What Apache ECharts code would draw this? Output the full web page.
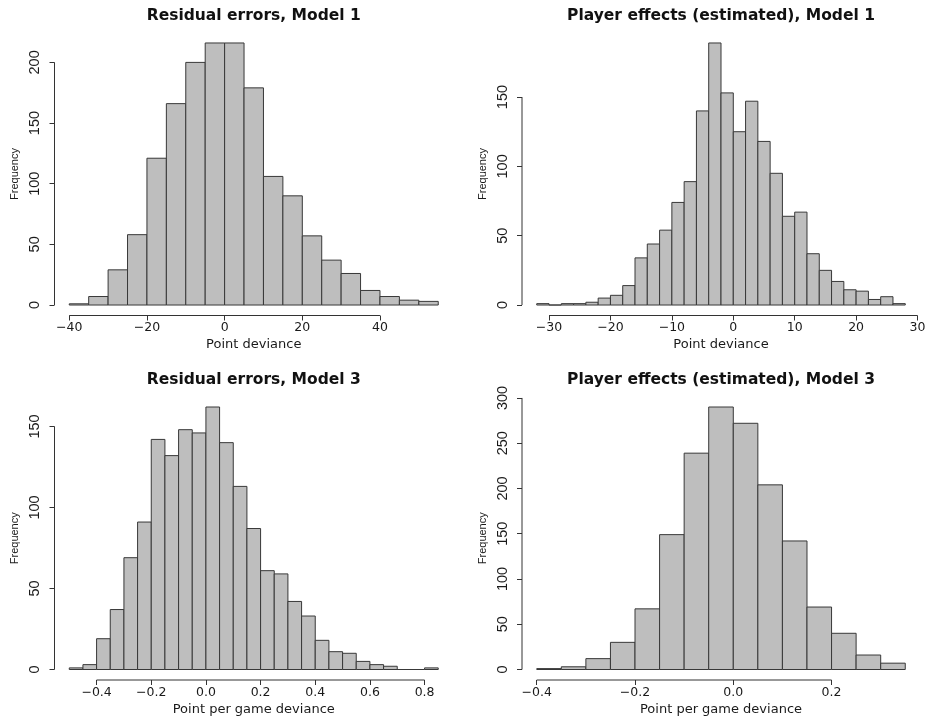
<!DOCTYPE html>
<html>
<head>
<meta charset="utf-8">
<title>Residuals and player effects</title>
<script src="https://cdn.jsdelivr.net/npm/echarts@6/dist/echarts.min.js"></script>
<style>
  html, body { margin: 0; padding: 0; background: #fff; }
  #chart { width: 932px; height: 718px; }
</style>
</head>
<body>
<div id="chart"></div>
<script>
// counts per bin
var resid1Start = -40
var resid1Width = 5
var resid1Counts = [1, 7, 29, 58, 121, 166, 200, 216, 216, 179, 106, 90, 57, 37, 26, 12, 7, 4, 3]
var resid1XTicks = [-40, -20, 0, 20, 40]
var resid1YTicks = [0, 50, 100, 150, 200]

var player1Start = -32
var player1Width = 2
var player1Counts = [1, 0, 1, 1, 2, 5, 7, 14, 34, 44, 54, 74, 89, 140, 189, 153, 125, 147, 118, 95, 64, 67, 37, 25, 17, 11, 10, 4, 6, 1]
var player1XTicks = [-30, -20, -10, 0, 10, 20, 30]
var player1YTicks = [0, 50, 100, 150]

var resid3Start = -0.5
var resid3Width = 0.05
var resid3Counts = [1, 3, 19, 37, 69, 91, 142, 132, 148, 146, 162, 140, 113, 87, 61, 59, 42, 33, 18, 11, 10, 5, 3, 2, 0, 0, 1]
var resid3XTicks = [-0.4, -0.2, 0, 0.2, 0.4, 0.6, 0.8]
var resid3YTicks = [0, 50, 100, 150]

var player3Start = -0.4
var player3Width = 0.05
var player3Counts = [1, 3, 12, 30, 67, 149, 239, 290, 272, 204, 142, 69, 40, 16, 7]
var player3XTicks = [-0.4, -0.2, 0, 0.2]
var player3YTicks = [0, 50, 100, 150, 200, 250, 300]

var panels = [
  { title: 'Residual errors, Model 1', xName: 'Point deviance', start: resid1Start, width: resid1Width, counts: resid1Counts, xTicks: resid1XTicks, yTicks: resid1YTicks, digits: 0 },
  { title: 'Player effects (estimated), Model 1', xName: 'Point deviance', start: player1Start, width: player1Width, counts: player1Counts, xTicks: player1XTicks, yTicks: player1YTicks, digits: 0 },
  { title: 'Residual errors, Model 3', xName: 'Point per game deviance', start: resid3Start, width: resid3Width, counts: resid3Counts, xTicks: resid3XTicks, yTicks: resid3YTicks, digits: 1 },
  { title: 'Player effects (estimated), Model 3', xName: 'Point per game deviance', start: player3Start, width: player3Width, counts: player3Counts, xTicks: player3XTicks, yTicks: player3YTicks, digits: 1 }
]

// plot regions (R style: axes sit on the region edge)
var layout = [
  { left: 54.5, top: 32.5, width: 398.5, height: 283 },
  { left: 522, top: 32.5, width: 398, height: 283 },
  { left: 54.5, top: 396.5, width: 398.5, height: 283.5 },
  { left: 522, top: 396.5, width: 398, height: 283.5 }
]

var lineColor = '#333'
var textColor = '#1a1a1a'

// R pads the data range by 4% on each side
function padRange(lo, hi) {
  var d = (hi - lo) * 0.04
  return [lo - d, hi + d]
}

function fmt(digits) {
  return function (v) {
    return v.toFixed(digits).replace('-', '\u2212')
  }
}

function renderBar(params, api) {
  var top = api.coord([api.value(0), api.value(2)])
  var bottom = api.coord([api.value(1), 0])
  return {
    type: 'rect',
    shape: { x: top[0], y: top[1], width: bottom[0] - top[0], height: bottom[1] - top[1] },
    style: { fill: '#bebebe', stroke: '#383838', lineWidth: 1 }
  }
}

// axis lines only run from first to last tick
function axisLines(xTicks, yTicks, xr, yr) {
  return function (params, api) {
    var a = api.coord([xTicks[0], yr[0]])
    var b = api.coord([xTicks[xTicks.length - 1], yr[0]])
    var c = api.coord([xr[0], yTicks[0]])
    var d = api.coord([xr[0], yTicks[yTicks.length - 1]])
    return {
      type: 'group',
      children: [
        { type: 'line', shape: { x1: a[0], y1: a[1], x2: b[0], y2: b[1] }, style: { stroke: lineColor, lineWidth: 1 } },
        { type: 'line', shape: { x1: c[0], y1: c[1], x2: d[0], y2: d[1] }, style: { stroke: lineColor, lineWidth: 1 } }
      ]
    }
  }
}

var chart = echarts.init(document.getElementById('chart'))
var option = {
  backgroundColor: '#fff',
  animation: false,
  title: [],
  grid: [],
  xAxis: [],
  yAxis: [],
  series: []
}

panels.forEach(function (p, i) {
  var box = layout[i]
  var end = p.start + p.width * p.counts.length
  var xr = padRange(p.start, end)
  var yr = padRange(0, Math.max.apply(null, p.counts))

  option.grid.push({ left: box.left, top: box.top, width: box.width, height: box.height })

  option.title.push({
    text: p.title,
    left: box.left + box.width / 2,
    top: box.top - 24.5,
    textAlign: 'center',
    padding: 0,
    textStyle: { fontFamily: 'DejaVu Sans', fontWeight: 'bold', fontSize: 15.5, color: '#111' }
  })

  option.xAxis.push({
    gridIndex: i,
    type: 'value',
    min: xr[0],
    max: xr[1],
    axisLine: { show: false, onZero: false },
    splitLine: { show: false },
    axisTick: { show: true, customValues: p.xTicks, length: 5, lineStyle: { color: lineColor } },
    axisLabel: {
      customValues: p.xTicks,
      formatter: fmt(p.digits),
      margin: 6,
      color: textColor,
      fontFamily: 'DejaVu Sans',
      fontSize: 12.5
    },
    name: p.xName,
    nameLocation: 'middle',
    nameGap: 23,
    nameTextStyle: { fontFamily: 'DejaVu Sans', fontSize: 13, color: textColor }
  })

  option.yAxis.push({
    gridIndex: i,
    type: 'value',
    min: yr[0],
    max: yr[1],
    axisLine: { show: false, onZero: false },
    splitLine: { show: false },
    axisTick: { show: true, customValues: p.yTicks, length: 5, lineStyle: { color: lineColor } },
    axisLabel: {
      customValues: p.yTicks,
      formatter: fmt(0),
      rotate: 90,
      margin: 12,
      color: textColor,
      fontFamily: 'Liberation Sans',
      fontSize: 14.5
    },
    name: 'Frequency',
    nameLocation: 'middle',
    nameGap: 34,
    nameTextStyle: { fontFamily: 'Liberation Sans', fontSize: 11, color: textColor }
  })

  option.series.push({
    type: 'custom',
    xAxisIndex: i,
    yAxisIndex: i,
    silent: true,
    clip: false,
    renderItem: renderBar,
    data: p.counts.map(function (c, k) {
      return [p.start + k * p.width, p.start + (k + 1) * p.width, c]
    })
  })

  option.series.push({
    type: 'custom',
    xAxisIndex: i,
    yAxisIndex: i,
    silent: true,
    clip: false,
    renderItem: axisLines(p.xTicks, p.yTicks, xr, yr),
    data: [[0]]
  })
})

chart.setOption(option)
</script>
</body>
</html>
